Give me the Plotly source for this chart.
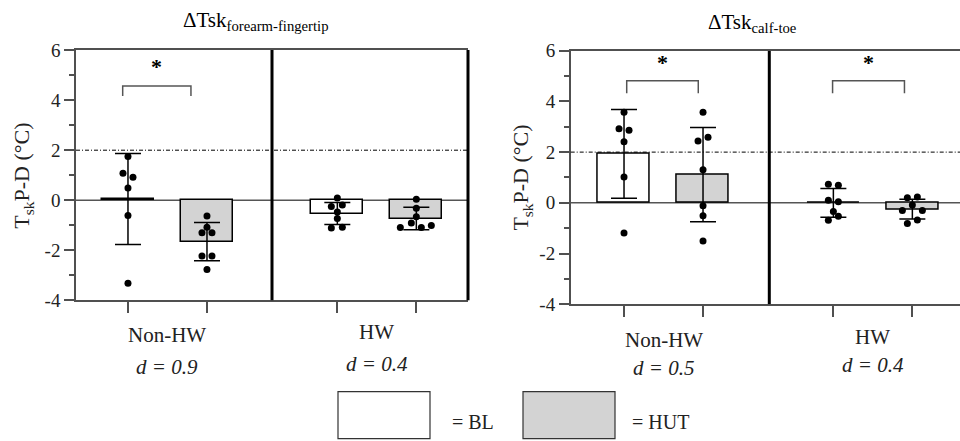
import plotly.graph_objects as go

W, H = 960, 441

# ---- data -------------------------------------------------------------
groups = ["Non-HW", "HW"]
conditions = ["BL", "HUT"]
effect_fore = ["d = 0.9", "d = 0.4"]
effect_calf = ["d = 0.5", "d = 0.4"]

# order: Non-HW BL, Non-HW HUT, HW BL, HW HUT
fore_mean = [0.05, -1.65, -0.53, -0.73]
fore_sd = [1.82, 0.76, 0.44, 0.45]
fore_nonhw_bl = [1.75, 1.08, 0.92, 0.49, -0.61, -3.31]
fore_nonhw_hut = [-0.63, -1.08, -1.30, -1.30, -2.22, -2.22, -2.76]
fore_hw_bl = [0.09, -0.25, -0.19, -0.47, -0.73, -1.11, -1.08]
fore_hw_hut = [0.04, -0.32, -0.66, -1.09, -0.91, -1.09, -1.01]

calf_mean = [1.93, 1.11, 0.0, -0.25]
calf_sd = [1.75, 1.86, 0.57, 0.39]
calf_nonhw_bl = [3.57, 2.92, 2.86, 2.41, 1.02, -1.19]
calf_nonhw_hut = [3.57, 2.44, 2.59, 1.30, -0.11, -0.51, -1.50]
calf_hw_bl = [0.73, 0.69, 0.10, 0.04, -0.34, -0.69, -0.53]
calf_hw_hut = [0.20, 0.23, -0.09, -0.30, -0.30, -0.81, -0.68]

y_ticks = [-4, -2, 0, 2, 4, 6]
y_ticktext = ["-4", "-2", "0", "2", "4", "6"]
y_minor = [-3, -1, 1, 3, 5]
threshold = 2

# ---- layout constants -------------------------------------------------
PX_UNIT = 79.0                       # px per x unit
bar_pos = [0.0, 1.0, 2.65, 3.65]
bar_fill = ["white", "#d3d3d3", "white", "#d3d3d3"]
BAR_W = 0.66

# horizontal scatter offsets (px) for each dot
fore_jit = [[0, -5, 5, 0, 0, 0],
            [0, 0, -5, 5, -5, 5, 0],
            [0, -6, 5, 0, 0, -6, 5],
            [0, 0, 0, -16, -5, 5, 15]]
calf_jit = [[0, -5, 5, 0, 0, 0],
            [0, -5, 5, 0, 0, 0, 0],
            [-5, 5, -5, 5, 0, -5, 5],
            [-5, 5, 0, -10, 10, -5, 5]]

AX_COL = "#505050"
TXT_COL = "#222222"


def serif(size, color=TXT_COL):
    return dict(family="Liberation Serif", size=size, color=color)


panels = [
    dict(xa="x", ya="y", xname="xaxis", yname="yaxis",
         xdom=[76 / W, 468 / W], ydom=[1 - 305 / H, 1 - 42 / H],
         xr=[-0.658, 4.304], divider=1.823, right_border=True,
         mean=fore_mean, sd=fore_sd,
         pts=[fore_nonhw_bl, fore_nonhw_hut, fore_hw_bl, fore_hw_hut],
         jit=fore_jit,
         title="ΔTsk<sub>forearm-fingertip</sub>", title_xy=(256, -4),
         ytitle_x=23, ycen=174,
         brackets=[(-0.067, 0.797, 4.16, 4.56, 5.17)],
         labels=[(0.5, 341, 375), (3.15, 338, 371.5)], eff=effect_fore),
    dict(xa="x2", ya="y2", xname="xaxis2", yname="yaxis2",
         xdom=[570.7 / W, 1.0], ydom=[1 - 309 / H, 1 - 42.7 / H],
         xr=[-0.675, 4.253], divider=1.839, right_border=False,
         mean=calf_mean, sd=calf_sd,
         pts=[calf_nonhw_bl, calf_nonhw_hut, calf_hw_bl, calf_hw_hut],
         jit=calf_jit,
         title="ΔTsk<sub>calf-toe</sub>", title_xy=(752, -2),
         ytitle_x=522, ycen=176,
         brackets=[(0.034, 0.94, 4.32, 4.81, 5.39),
                   (2.64, 3.55, 4.32, 4.81, 5.39)],
         labels=[(0.5, 347, 376), (3.15, 343.5, 373)], eff=effect_calf),
]

fig = go.Figure()

for p in panels:
    fig.add_trace(go.Bar(
        x=bar_pos, y=p["mean"], width=BAR_W,
        marker=dict(color=bar_fill, line=dict(color="black", width=1.5)),
        error_y=dict(type="data", array=p["sd"], color="black",
                     thickness=1.5, width=13),
        xaxis=p["xa"], yaxis=p["ya"], showlegend=False, hoverinfo="skip"))
    for pos, vals, jit in zip(bar_pos, p["pts"], p["jit"]):
        fig.add_trace(go.Scatter(
            x=[pos + j / PX_UNIT for j in jit], y=vals, mode="markers",
            marker=dict(color="black", size=7),
            xaxis=p["xa"], yaxis=p["ya"], showlegend=False, hoverinfo="skip"))

    xd = p["xa"] + " domain"
    # zero line and threshold line
    fig.add_shape(type="line", xref=xd, yref=p["ya"], x0=0, x1=1, y0=0, y1=0,
                  line=dict(color="#555555", width=1.5), layer="below")
    fig.add_shape(type="line", xref=xd, yref=p["ya"], x0=0, x1=1,
                  y0=threshold, y1=threshold,
                  line=dict(color="black", width=1, dash="4px,2px,1px,2px"))
    # group divider
    fig.add_shape(type="line", xref=p["xa"], yref=p["ya"],
                  x0=p["divider"], x1=p["divider"], y0=-4, y1=6,
                  line=dict(color="black", width=3))
    if p["right_border"]:
        fig.add_shape(type="line", xref=xd, yref=p["ya"], x0=1, x1=1,
                      y0=-4, y1=6, line=dict(color="black", width=3))
    # significance brackets
    for x0, x1, yl, yt, ys in p["brackets"]:
        fig.add_shape(type="path", xref=p["xa"], yref=p["ya"],
                      path=f"M {x0},{yl} L {x0},{yt} L {x1},{yt} L {x1},{yl}",
                      line=dict(color="#555555", width=1.5))
        fig.add_annotation(text="<b>*</b>", x=(x0 + x1) / 2, y=ys,
                           xref=p["xa"], yref=p["ya"], showarrow=False,
                           yshift=4, font=serif(22, "black"))
    # titles
    tx, ty = p["title_xy"]
    fig.add_annotation(text=p["title"], x=tx / W, y=1 - ty / H,
                       xref="paper", yref="paper", showarrow=False,
                       xanchor="center", yanchor="top",
                       font=serif(21, "black"))
    fig.add_annotation(text="T<sub>sk</sub>P-D (°C)", x=p["ytitle_x"] / W,
                       y=1 - p["ycen"] / H, xref="paper", yref="paper",
                       showarrow=False, textangle=-90,
                       xanchor="center", yanchor="middle", font=serif(22))
    # group labels and effect sizes
    for (gx, gy, dy), g, e in zip(p["labels"], groups, p["eff"]):
        fig.add_annotation(text=g, x=gx, y=1 - gy / H, xref=p["xa"],
                           yref="paper", showarrow=False, yanchor="middle",
                           font=serif(21))
        fig.add_annotation(text=f"<i>{e}</i>", x=gx, y=1 - dy / H,
                           xref=p["xa"], yref="paper", showarrow=False,
                           yanchor="middle", font=serif(21))

    axis_common = dict(showline=True, linecolor=AX_COL, linewidth=1.5,
                       showgrid=False, zeroline=False, ticks="outside",
                       tickcolor=AX_COL, tickwidth=1.5, fixedrange=True)
    fig.layout[p["xname"]] = dict(
        axis_common, domain=p["xdom"], range=p["xr"], mirror=True,
        tickvals=bar_pos, showticklabels=False, ticklen=11,
        anchor=p["ya"])
    fig.layout[p["yname"]] = dict(
        axis_common, domain=p["ydom"], range=[-4, 6],
        tickvals=y_ticks, ticktext=y_ticktext, ticklen=10,
        minor=dict(tickvals=y_minor, ticklen=5, ticks="outside",
                   tickcolor=AX_COL, tickwidth=1.5),
        tickfont=serif(19),
        anchor=p["xa"])

# legend keys
for (x0, x1), fill, name, tx in [((338, 430), "white", "= BL", 450),
                                  ((523, 615), "#d3d3d3", "= HUT", 630)]:
    fig.add_shape(type="rect", xref="paper", yref="paper",
                  x0=x0 / W, x1=x1 / W, y0=1 - 450 / H, y1=1 - 400.7 / H,
                  fillcolor=fill, line=dict(color="#333333", width=1.2))
    fig.add_annotation(text=name, x=tx / W, y=1 - 433 / H, xref="paper",
                       yref="paper", showarrow=False, xanchor="left",
                       yanchor="middle", font=serif(20))

fig.update_layout(
    width=W, height=H, margin=dict(l=0, r=0, t=0, b=0),
    paper_bgcolor="white", plot_bgcolor="white", bargap=0,
)

fig.write_html("out.html")
